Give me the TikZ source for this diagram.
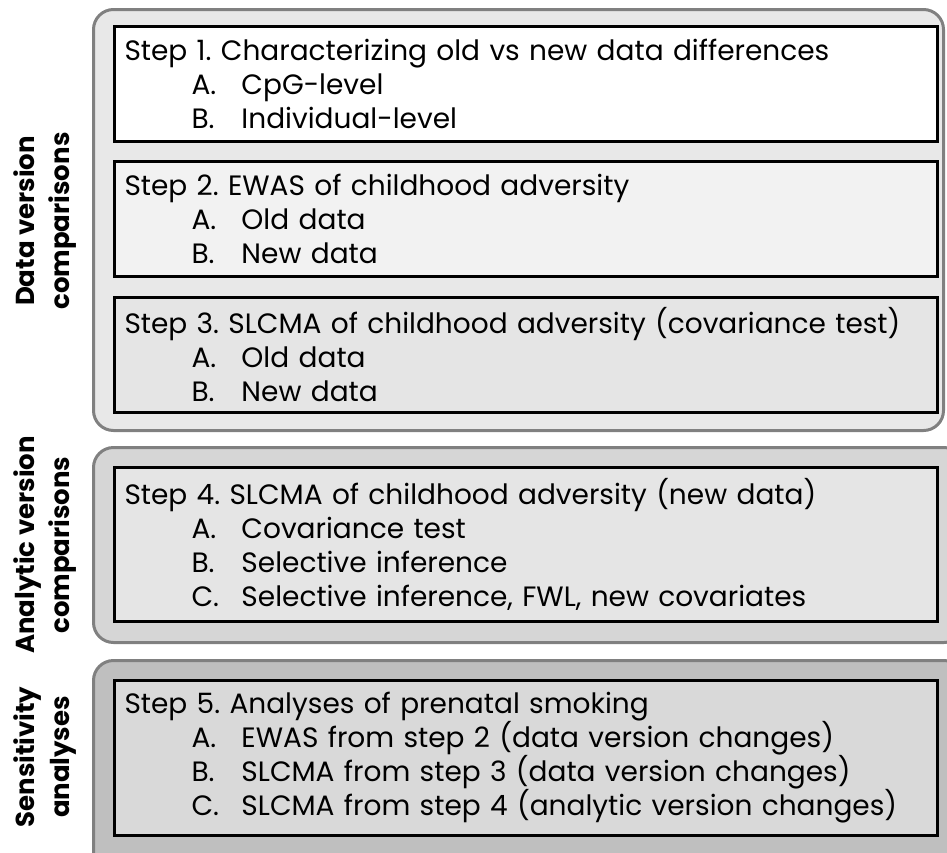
\documentclass[tikz,border=0pt]{standalone}
\usepackage{fontspec}
\setmainfont{Poppins}
\usetikzlibrary{positioning,calc,backgrounds}

\newcommand{\partline}[2]{\hspace*{67pt}\makebox[50pt][l]{#1}#2}

\begin{document}
\begin{tikzpicture}[
    x=1pt, y=1pt,
    node distance=17pt,
    stepbox/.style={
        draw=black,
        line width=3pt,
        align=left,
        inner xsep=10pt,
        text width=803pt,
        minimum width=823pt,
        minimum height=115pt,
        font=\fontsize{28}{34}\selectfont\frenchspacing
    },
    panel/.style={draw=black!50, line width=3pt, rounded corners=20pt},
    sidelabel/.style={rotate=90, align=center, font=\bfseries\fontsize{26}{35}\selectfont}
]
\useasboundingbox (0,0) rectangle (947,-852);

\node[stepbox, fill=white, anchor=north west] (s1) at (113,-25) {Step 1. Characterizing old vs new data differences\\ \partline{A.}{CpG-level}\\ \partline{B.}{Individual-level}};
\node[stepbox, fill=black!5, below=of s1] (s2) {Step 2. EWAS of childhood adversity\\ \partline{A.}{Old data}\\ \partline{B.}{New data}};
\node[stepbox, fill=black!10, below=18pt of s2] (s3) {Step 3. SLCMA of childhood adversity (covariance test)\\ \partline{A.}{Old data}\\ \partline{B.}{New data}};
\node[stepbox, fill=black!10, minimum height=154pt, below=52pt of s3] (s4) {Step 4. SLCMA of childhood adversity (new data)\\ \partline{A.}{Covariance test}\\ \partline{B.}{Selective inference}\\ \partline{C.}{Selective inference, FWL, new covariates}};
\node[stepbox, fill=black!15, minimum height=155pt, below=56pt of s4] (s5) {Step 5. Analyses of prenatal smoking\\ \partline{A.}{EWAS from step 2 (data version changes)}\\ \partline{B.}{SLCMA from step 3 (data version changes)}\\ \partline{C.}{SLCMA from step 4 (analytic version changes)}};

% grey panels behind the steps
\begin{scope}[on background layer]
\draw[panel, fill=black!9] ($(s1.north west)+(-19.5,15.5)$) rectangle ($(s3.south east)+(4.5,-16.5)$);
\draw[panel, fill=black!16] ($(s4.north west)+(-19.5,18.5)$) rectangle ($(s4.south east)+(25,-19.5)$);
\draw[panel, fill=black!25] ($(s5.north west)+(-19.5,18.5)$) rectangle ($(s5.south east)+(25,-40)$);
\end{scope}

\node[sidelabel] (datalab) at (45,-221) {Data version\\comparisons};
\node[sidelabel] (analab) at (45,-545) {Analytic version\\comparisons};
\node[sidelabel] (senslab) at (45,-757) {Sensitivity\\analyses};
\end{tikzpicture}
\end{document}
